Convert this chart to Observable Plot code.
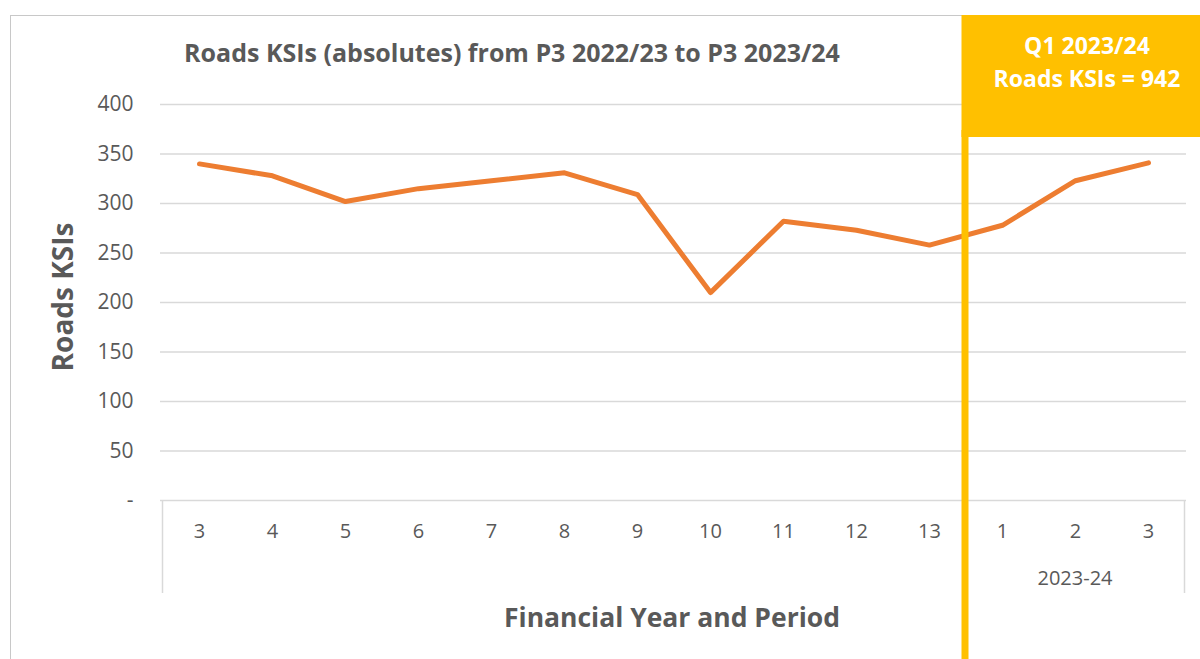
<!DOCTYPE html>
<html><head><meta charset="utf-8">
<script src="https://cdn.jsdelivr.net/npm/d3@7"></script>
<script src="https://cdn.jsdelivr.net/npm/@observablehq/plot@0.6"></script>
<style>
html,body{margin:0;padding:0;background:#fff;}
svg{display:block;}
</style>
</head><body>
<div id="chart"></div>
<script>
const periods = [3,4,5,6,7,8,9,10,11,12,13,1,2,3];
const years = ["2022-23","2022-23","2022-23","2022-23","2022-23","2022-23","2022-23","2022-23","2022-23","2022-23","2022-23","2023-24","2023-24","2023-24"];
const ksis = [340,328,302,315,323,331,309,210,282,273,258,278,323,341];
const yTicks = [0,50,100,150,200,250,300,350,400];
const title = "Roads KSIs (absolutes) from P3 2022/23 to P3 2023/24";
const yLabel = "Roads KSIs";
const xLabel = "Financial Year and Period";
const calloutLines = ["Q1 2023/24", "Roads KSIs = 942"];
const shownYear = "2023-24";

const keys = periods.map((p,i) => years[i] + " P" + p);
const data = keys.map((k,i) => ({key:k, period:periods[i], year:years[i], value:ksis[i]}));
const periodOf = Object.fromEntries(data.map(d => [d.key, d.period]));

const FONT = "'Open Sans', Lato, sans-serif";
const GREY = "#595959";
const ORANGE = "#ED7D31";
const GOLD = "#FFC000";

const plot = Plot.plot({
  width: 1200, height: 659,
  marginLeft: 160, marginRight: 14, marginTop: 104, marginBottom: 159,
  style: {fontFamily: FONT, background: "#fff", overflow: "visible"},
  x: {type: "point", domain: keys, padding: 0.5, align: 0.5, label: null},
  y: {domain: [0, 400], label: null},
  marks: [
    Plot.gridY(yTicks.filter(t => t > 0), {stroke: "#d9d9d9", strokeOpacity: 1, strokeWidth: 1.5}),
    Plot.ruleY([0], {stroke: "#d9d9d9", strokeWidth: 1.5}),
    Plot.axisY({ticks: yTicks, tickSize: 0, tickPadding: 27, fontSize: 21, fill: GREY,
      tickFormat: d => d === 0 ? "-" : d, label: null}),
    Plot.axisX({tickSize: 0, tickPadding: 23, fontSize: 20, fill: GREY,
      tickFormat: k => periodOf[k], label: null}),
    Plot.line(data, {x: "key", y: "value", stroke: ORANGE, strokeWidth: 5,
      strokeLinecap: "round", strokeLinejoin: "round"})
  ]
});
document.getElementById("chart").appendChild(plot);

const svg = d3.select(plot);
const xs = plot.scale("x");
const ys = plot.scale("y");
const step = xs.apply(keys[1]) - xs.apply(keys[0]);
const left = xs.apply(keys[0]) - step/2;
const right = xs.apply(keys[keys.length-1]) + step/2;
const y0 = ys.apply(0);
const boundary = xs.apply(keys[years.indexOf(shownYear)]) - step/2;

// outer chart frame
svg.insert("rect", ":first-child")
  .attr("x", 10.5).attr("y", 15.5).attr("width", 1300).attr("height", 800)
  .attr("fill", "none").attr("stroke", "#c8c8c8").attr("stroke-width", 1);

// category axis separators
const g = svg.append("g");
[left, right].forEach(x => {
  g.append("line").attr("x1", x).attr("x2", x).attr("y1", y0).attr("y2", y0 + 93)
    .attr("stroke", "#d9d9d9").attr("stroke-width", 1.5);
});
// year label
const yrKeys = keys.filter((k,i) => years[i] === shownYear);
const yrCenter = (xs.apply(yrKeys[0]) + xs.apply(yrKeys[yrKeys.length-1])) / 2;
g.append("text").attr("x", yrCenter).attr("y", y0 + 85)
  .attr("text-anchor", "middle").attr("font-size", 20).attr("fill", GREY)
  .attr("font-family", FONT).text(shownYear);

// title
g.append("text").attr("x", 512).attr("y", 62).attr("text-anchor", "middle")
  .attr("font-size", 25).attr("font-weight", "bold").attr("fill", GREY)
  .attr("font-family", FONT).text(title);
// y label
g.append("text").attr("transform", `translate(73,297) rotate(-90)`)
  .attr("text-anchor", "middle").attr("font-size", 28).attr("font-weight", "bold")
  .attr("fill", GREY).attr("font-family", FONT).text(yLabel);
// x label
g.append("text").attr("x", 672).attr("y", 627).attr("text-anchor", "middle")
  .attr("font-size", 26.5).attr("font-weight", "bold").attr("fill", GREY)
  .attr("font-family", FONT).text(xLabel);

// callout: vertical gold line and box
g.append("rect").attr("x", boundary - 4).attr("y", 130).attr("width", 7).attr("height", 540)
  .attr("fill", GOLD);
g.append("rect").attr("x", boundary - 4).attr("y", 15).attr("width", 1200 - boundary + 10).attr("height", 122)
  .attr("fill", GOLD);
const boxCx = 1087;
calloutLines.forEach((t, i) => {
  g.append("text").attr("x", boxCx).attr("y", 54 + i * 33).attr("text-anchor", "middle")
    .attr("font-size", 23).attr("font-weight", "bold").attr("fill", "#fff")
    .attr("font-family", FONT).text(t);
});
</script>
</body></html>
